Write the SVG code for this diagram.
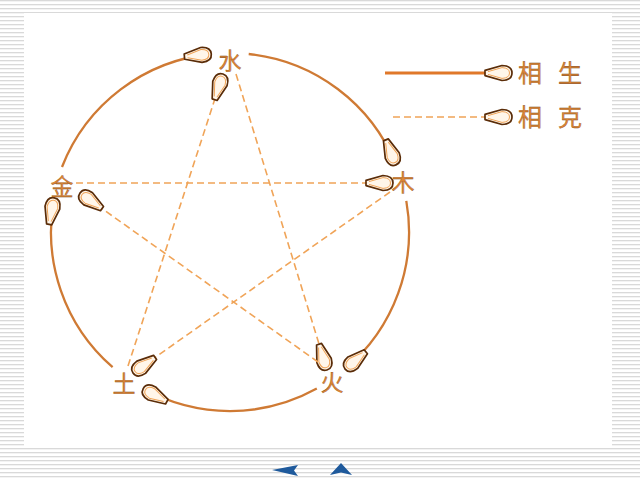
<svg xmlns="http://www.w3.org/2000/svg" width="640" height="480" viewBox="0 0 640 480">
<defs>
<pattern id="stripes" width="4" height="4" patternUnits="userSpaceOnUse">
<rect width="4" height="4" fill="#ffffff"/>
<rect y="0" width="4" height="1.3" fill="#d9d9d9"/>
</pattern>
<marker id="ah" markerUnits="userSpaceOnUse" viewBox="-30 -10 32 20" markerWidth="32" markerHeight="20" refX="0" refY="0" orient="auto">
<path d="M-27,-2.6 L-10,-7.5 Q0,-7.2 0,0 Q0,7.2 -10,7.5 L-27,2.6 Z" fill="#fff6ea" stroke="#5a2c08" stroke-width="1.7" stroke-linejoin="round"/>
<path d="M-24,-1.4 L-10,-5.4 Q-2.5,-5 -2.5,0 Q-2.5,5 -10,5.4 L-24,1.4" fill="none" stroke="#f0a458" stroke-width="1"/>
</marker>
<style>
.sheng{fill:none;stroke:#cf7a34;stroke-width:2.3;marker-end:url(#ah)}
.ke{fill:none;stroke:#f0a458;stroke-width:1.6;stroke-dasharray:7 4;marker-end:url(#ah)}
.lbl{font-family:"Noto Sans CJK SC","Noto Sans CJK JP",sans-serif;fill:#dc8636;stroke:#7a4214;stroke-width:0.3}
.nav{fill:#1f5a9c}
</style>
</defs>
<rect width="640" height="480" fill="url(#stripes)"/>
<rect x="24" y="13" width="588" height="434" fill="#ffffff"/>
<g id="connectors">
<path class="sheng" d="M248.7,54 A179,179 0 0 1 396,164.9"/>
<path class="sheng" d="M406.3,200.9 A179,179 0 0 1 345.1,369.1"/>
<path class="sheng" d="M316.8,388.6 A179,179 0 0 1 143.2,388.6"/>
<path class="sheng" d="M112.6,367.1 A179,179 0 0 1 54.3,197.8"/>
<path class="sheng" d="M62,167 A179,179 0 0 1 211.3,54"/>
<path class="ke" d="M128,366 L223,74"/>
<path class="ke" d="M236,74 L327,370"/>
<path class="ke" d="M318,362 L80,193"/>
<path class="ke" d="M76,183 L393,183"/>
<path class="ke" d="M390,192 L133,373"/>
</g>
<g id="node-shui"><text class="lbl" x="230" y="69" font-size="23" text-anchor="middle">水</text></g>
<g id="node-mu"><text class="lbl" x="403" y="191" font-size="23" text-anchor="middle">木</text></g>
<g id="node-huo"><text class="lbl" x="332" y="391" font-size="23" text-anchor="middle">火</text></g>
<g id="node-tu"><text class="lbl" x="124" y="392" font-size="23" text-anchor="middle">土</text></g>
<g id="node-jin"><text class="lbl" x="62" y="195" font-size="23" text-anchor="middle">金</text></g>
<g id="legend">
<path d="M385,73 L512,73" fill="none" stroke="#e0782a" stroke-width="3.2" marker-end="url(#ah)"/>
<path d="M393,117 L512,117" fill="none" stroke="#f0a458" stroke-width="1.6" stroke-dasharray="7 4" marker-end="url(#ah)"/>
<text class="lbl" x="518" y="82" font-size="24" letter-spacing="16">相生</text>
<text class="lbl" x="518" y="126" font-size="24" letter-spacing="16">相克</text>
</g>
<g id="nav">
<polygon class="nav" points="272,470 298,465 294,470.5 298,476"/>
<polygon class="nav" points="341,463 352,475 341,472.5 330,475"/>
</g>
</svg>
